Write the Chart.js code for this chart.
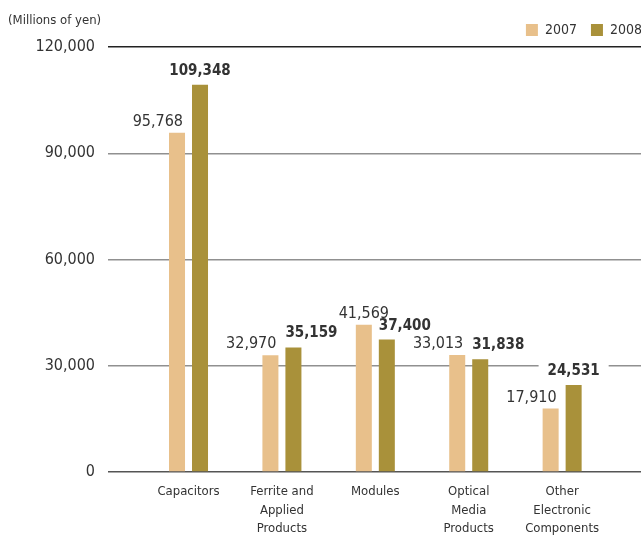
<!DOCTYPE html>
<html>
<head>
<meta charset="utf-8">
<script src="https://cdn.jsdelivr.net/npm/chart.js@4.4.1/dist/chart.umd.min.js"></script>
<style>
  body { margin: 0; background: #fff; overflow: hidden; }
  #wrap { position: relative; width: 641px; height: 535px; overflow: hidden; }
  #unit { position: absolute; left: 8px; top: 12px; font-size: 13px; color: #333;
          font-family: "DejaVu Sans Condensed", "Liberation Sans Narrow", sans-serif; }
</style>
</head>
<body>
<div id="wrap">
  <canvas id="barChart" width="656" height="535"></canvas>
  <div id="unit">(Millions of yen)</div>
</div>
<script>
const categories = ["Capacitors", ["Ferrite and", "Applied", "Products"], "Modules",
                    ["Optical", "Media", "Products"], ["Other", "Electronic", "Components"]];
const years = ["2007", "2008"];
const sales2007 = [95768, 32970, 41569, 33013, 17910];
const sales2008 = [109348, 35159, 37400, 31838, 24531];
const yTicks = [0, 30000, 60000, 90000, 120000];

// where each value label sits against its bar
const align2007 = ['right', 'right', 'center', 'right', 'right'];
const align2008 = ['center', 'left', 'left', 'left', 'center'];

const FONT = '"DejaVu Sans Condensed", "Liberation Sans Narrow", sans-serif';

function drawLabels(chart, boxesOnly) {
    const ctx = chart.ctx;
    ctx.save();
    chart.data.datasets.forEach((ds, di) => {
        const meta = chart.getDatasetMeta(di);
        ctx.font = di === 1 ? 'bold 15px ' + FONT : '16px ' + FONT;
        const gap = di === 1 ? 10 : 7;
        const aligns = di === 0 ? align2007 : align2008;
        meta.data.forEach((bar, i) => {
            const text = ds.data[i].y.toLocaleString('en-US');
            const w = ctx.measureText(text).width;
            const align = aligns[i];
            let x = bar.x;
            if (align === 'right') x = bar.x + bar.width / 2 - 2;
            if (align === 'left') x = bar.x - bar.width / 2;
            const y = bar.y - gap;
            const left = align === 'right' ? x - w : align === 'left' ? x : x - w / 2;
            if (boxesOnly) {
                ctx.fillStyle = '#fff';
                ctx.fillRect(left - 9, y - 16, w + 18, 21);
            } else {
                ctx.fillStyle = '#333';
                ctx.textAlign = align;
                ctx.textBaseline = 'alphabetic';
                ctx.fillText(text, x, y);
            }
        });
    });
    ctx.restore();
}

const valueLabels = {
    id: 'valueLabels',
    beforeDatasetsDraw(chart) { drawLabels(chart, true); },
    afterDatasetsDraw(chart) { drawLabels(chart, false); }
};

new Chart(document.getElementById("barChart"), {
    type: "bar",
    data: {
        datasets: [{
            label: years[0],
            data: sales2007.map((v, i) => ({ x: i, y: v })),
            backgroundColor: '#e8c08b'
        }, {
            label: years[1],
            data: sales2008.map((v, i) => ({ x: i, y: v })),
            backgroundColor: '#a9913a'
        }]
    },
    options: {
        responsive: false,
        animation: false,
        categoryPercentage: 0.4925,
        barPercentage: 0.696,
        layout: { padding: { top: 9, right: 0, bottom: 0, left: 0 } },
        scales: {
            x: {
                type: 'linear',
                min: -0.862,
                max: 5.005,
                bounds: 'data',
                offset: false,
                grid: { display: false },
                border: { display: false },
                afterBuildTicks: axis => { axis.ticks = categories.map((c, i) => ({ value: i })); },
                afterFit: axis => { axis.height = 63; },
                ticks: {
                    autoSkip: false,
                    maxRotation: 0,
                    padding: 3,
                    color: '#333',
                    font: { family: FONT, size: 13, lineHeight: 1.4 },
                    callback: v => categories[v]
                }
            },
            y: {
                min: 0,
                max: 120000,
                afterBuildTicks: axis => { axis.ticks = yTicks.map(v => ({ value: v })); },
                afterFit: axis => { axis.width = 108; },
                border: { display: false },
                grid: {
                    drawTicks: false,
                    lineWidth: 1.5,
                    color: c => c.tick.value === 120000 ? '#222' : (c.tick.value === 0 ? '#555' : '#909090')
                },
                ticks: {
                    padding: 13,
                    color: '#333',
                    font: { family: FONT, size: 16 },
                    callback: v => v.toLocaleString('en-US')
                }
            }
        },
        plugins: {
            legend: {
                position: 'top',
                align: 'end',
                labels: {
                    boxWidth: 12,
                    boxHeight: 12,
                    padding: 14,
                    color: '#333',
                    font: { family: FONT, size: 14 }
                }
            },
            tooltip: { enabled: false }
        }
    },
    plugins: [valueLabels]
});
</script>
</body>
</html>
